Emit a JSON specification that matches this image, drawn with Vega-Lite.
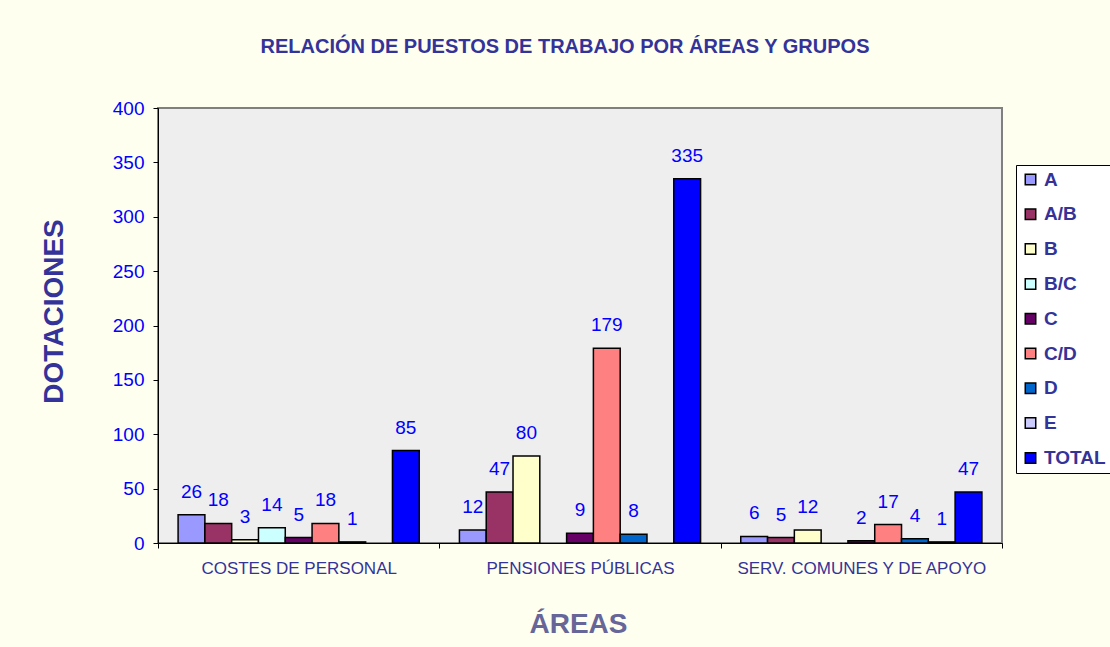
{
  "$schema": "https://vega.github.io/schema/vega-lite/v6.json",
  "width": 844,
  "height": 435,
  "autosize": {"type": "none"},
  "padding": {"left": 158, "top": 108, "right": 108, "bottom": 104},
  "background": "#FFFFF0",
  "title": {
    "text": "RELACIÓN DE PUESTOS DE TRABAJO POR ÁREAS Y GRUPOS",
    "font": "Liberation Sans",
    "fontSize": 20,
    "fontWeight": "bold",
    "color": "#333399",
    "anchor": "middle",
    "frame": "group",
    "dx": -15,
    "offset": 42
  },
  "config": {
    "font": "Liberation Sans",
    "view": {"fill": "#EEEEEE", "stroke": "#808080", "strokeWidth": 2}
  },
  "data": {
    "values": [
      {"area": "COSTES DE PERSONAL", "grupo": "A", "dotaciones": 26},
      {"area": "COSTES DE PERSONAL", "grupo": "A/B", "dotaciones": 18},
      {"area": "COSTES DE PERSONAL", "grupo": "B", "dotaciones": 3},
      {"area": "COSTES DE PERSONAL", "grupo": "B/C", "dotaciones": 14},
      {"area": "COSTES DE PERSONAL", "grupo": "C", "dotaciones": 5},
      {"area": "COSTES DE PERSONAL", "grupo": "C/D", "dotaciones": 18},
      {"area": "COSTES DE PERSONAL", "grupo": "D", "dotaciones": 1},
      {"area": "COSTES DE PERSONAL", "grupo": "TOTAL", "dotaciones": 85},
      {"area": "PENSIONES PÚBLICAS", "grupo": "A", "dotaciones": 12},
      {"area": "PENSIONES PÚBLICAS", "grupo": "A/B", "dotaciones": 47},
      {"area": "PENSIONES PÚBLICAS", "grupo": "B", "dotaciones": 80},
      {"area": "PENSIONES PÚBLICAS", "grupo": "C", "dotaciones": 9},
      {"area": "PENSIONES PÚBLICAS", "grupo": "C/D", "dotaciones": 179},
      {"area": "PENSIONES PÚBLICAS", "grupo": "D", "dotaciones": 8},
      {"area": "PENSIONES PÚBLICAS", "grupo": "TOTAL", "dotaciones": 335},
      {"area": "SERV. COMUNES Y DE APOYO", "grupo": "A", "dotaciones": 6},
      {"area": "SERV. COMUNES Y DE APOYO", "grupo": "A/B", "dotaciones": 5},
      {"area": "SERV. COMUNES Y DE APOYO", "grupo": "B", "dotaciones": 12},
      {"area": "SERV. COMUNES Y DE APOYO", "grupo": "C", "dotaciones": 2},
      {"area": "SERV. COMUNES Y DE APOYO", "grupo": "C/D", "dotaciones": 17},
      {"area": "SERV. COMUNES Y DE APOYO", "grupo": "D", "dotaciones": 4},
      {"area": "SERV. COMUNES Y DE APOYO", "grupo": "E", "dotaciones": 1},
      {"area": "SERV. COMUNES Y DE APOYO", "grupo": "TOTAL", "dotaciones": 47}
    ]
  },
  "encoding": {
    "x": {
      "field": "area",
      "type": "nominal",
      "sort": ["COSTES DE PERSONAL", "PENSIONES PÚBLICAS", "SERV. COMUNES Y DE APOYO"],
      "scale": {"paddingInner": 0, "paddingOuter": 0},
      "axis": {
        "title": "ÁREAS",
        "titleFont": "Liberation Sans",
        "titleFontSize": 28,
        "titleFontWeight": "bold",
        "titleColor": "#666699",
        "titleX": 420,
        "titleY": 89,
        "titleBaseline": "alphabetic",
        "labelFont": "Liberation Sans",
        "labelColor": "#333399",
        "labelFontSize": 17,
        "labelPadding": 12,
        "labelLimit": 400,
        "labelAngle": 0,
        "tickBand": "extent",
        "tickColor": "black",
        "tickSize": 5,
        "domainColor": "black",
        "grid": false
      }
    },
    "xOffset": {
      "field": "grupo",
      "type": "nominal",
      "scale": {
        "domain": ["A", "A/B", "B", "B/C", "C", "C/D", "D", "E", "TOTAL"],
        "paddingInner": 0,
        "paddingOuter": 0.75
      }
    },
    "y": {
      "field": "dotaciones",
      "type": "quantitative",
      "scale": {"domain": [0, 400]},
      "axis": {
        "title": "DOTACIONES",
        "titleFont": "Liberation Sans",
        "titleFontSize": 28,
        "titleFontWeight": "bold",
        "titleColor": "#333399",
        "titleAngle": -90,
        "titleX": -96,
        "titleY": 203,
        "titleAlign": "center",
        "titleBaseline": "alphabetic",
        "values": [0, 50, 100, 150, 200, 250, 300, 350, 400],
        "labelFont": "Liberation Sans",
        "labelColor": "#0000FF",
        "labelFontSize": 19,
        "labelPadding": 9,
        "tickColor": "black",
        "tickSize": 5,
        "domainColor": "black",
        "grid": false
      }
    }
  },
  "layer": [
    {
      "mark": {"type": "bar", "stroke": "black", "strokeWidth": 1.5},
      "encoding": {
        "color": {
          "field": "grupo",
          "type": "nominal",
          "scale": {
            "domain": ["A", "A/B", "B", "B/C", "C", "C/D", "D", "E", "TOTAL"],
            "range": ["#9999FF", "#993366", "#FFFFCC", "#CCFFFF", "#660066", "#FF8080", "#0066CC", "#CCCCFF", "#0000FF"]
          },
          "legend": {
            "title": null,
            "orient": "none",
            "legendX": 858,
            "legendY": 57,
            "direction": "vertical",
            "fillColor": "#FFFFFF",
            "strokeColor": "#000000",
            "padding": 5,
            "labelFont": "Liberation Sans",
            "labelFontSize": 19,
            "labelFontWeight": "bold",
            "labelColor": "#333399",
            "labelOffset": 4,
            "labelLimit": 200,
            "symbolType": "square",
            "symbolSize": 110,
            "symbolOpacity": 1,
            "symbolStrokeColor": "black",
            "symbolStrokeWidth": 1.5,
            "rowPadding": 14.8
          }
        }
      }
    },
    {
      "mark": {
        "type": "text",
        "baseline": "alphabetic",
        "dy": -17,
        "font": "Liberation Sans",
        "fontSize": 19,
        "color": "#0000FF"
      },
      "encoding": {"text": {"field": "dotaciones", "type": "quantitative"}}
    }
  ]
}
